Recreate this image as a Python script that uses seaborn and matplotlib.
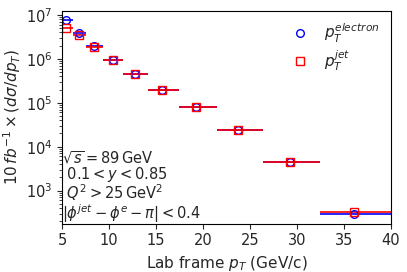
import numpy as np
import matplotlib
matplotlib.use('Agg')
import matplotlib.pyplot as plt
import seaborn as sns

# bin edges (GeV/c) and centers
bin_lo = [5.0, 6.16, 7.58, 9.33, 11.49, 14.14, 17.41, 21.44, 26.39, 32.49]
bin_hi = [6.16, 7.58, 9.33, 11.49, 14.14, 17.41, 21.44, 26.39, 32.49, 40.0]
pt_center = [5.4, 6.8, 8.4, 10.4, 12.7, 15.6, 19.3, 23.7, 29.3, 36.1]

# 10 fb^-1 x dsigma/dpT
xs_electron = [7.6e6, 3.9e6, 1.95e6, 9.6e5, 4.5e5, 2.0e5, 7.8e4, 2.45e4, 4.4e3, 2.95e2]
xs_jet = [5.0e6, 3.4e6, 1.85e6, 9.6e5, 4.5e5, 2.0e5, 7.8e4, 2.45e4, 4.4e3, 3.25e2]

sns.set_style('ticks')
plt.rcParams['font.family'] = ['DejaVu Sans']
plt.rcParams['mathtext.fontset'] = 'dejavusans'

x = np.array(pt_center)
xerr = [x - np.array(bin_lo), np.array(bin_hi) - x]

fig, ax = plt.subplots(figsize=(4.07, 2.72), dpi=100)

ax.errorbar(x, xs_electron, xerr=xerr, fmt='o', color='blue', mfc='none',
            ms=5.5, mew=1.0, lw=1.2)
ax.errorbar(x, xs_jet, xerr=xerr, fmt='s', color='red', mfc='none',
            ms=6, mew=1.0, lw=1.2)

# marker-only handles for the legend
ax.plot([], [], 'o', color='blue', mfc='none', ms=5.5, label=r'$p_T^{electron}$')
ax.plot([], [], 's', color='red', mfc='none', ms=6, label=r'$p_T^{jet}$')

ax.set_yscale('log')
ax.set_xlim(5, 40)
ax.set_ylim(10**2.25, 10**7.09)
ax.set_xlabel(r'Lab frame $p_T$ (GeV/c)', fontsize=11)
ax.set_ylabel(r'$10\,fb^{-1} \times (d\sigma/dp_T)$', fontsize=11, labelpad=2)
ax.tick_params(labelsize=10.5)
for s in ax.spines.values():
    s.set_color('black')

txt = ('$\\sqrt{s} = 89\\,\\mathrm{GeV}$\n'
       '$\\ 0.1 < y < 0.85$\n'
       '$\\ Q^2 > 25\\,\\mathrm{GeV}^2$\n'
       '$|\\phi^{jet} - \\phi^{e} - \\pi| < 0.4$')
ax.text(0.0, -0.006, txt, transform=ax.transAxes, fontsize=10.5,
        ha='left', va='bottom', linespacing=0.92)

ax.legend(loc='upper right', frameon=False, fontsize=11,
          handlelength=1.2, handletextpad=1.0, labelspacing=0.2,
          borderaxespad=0.3)

fig.subplots_adjust(left=0.153, right=0.96, top=0.96, bottom=0.178)
fig.savefig('out.png', dpi=100)
